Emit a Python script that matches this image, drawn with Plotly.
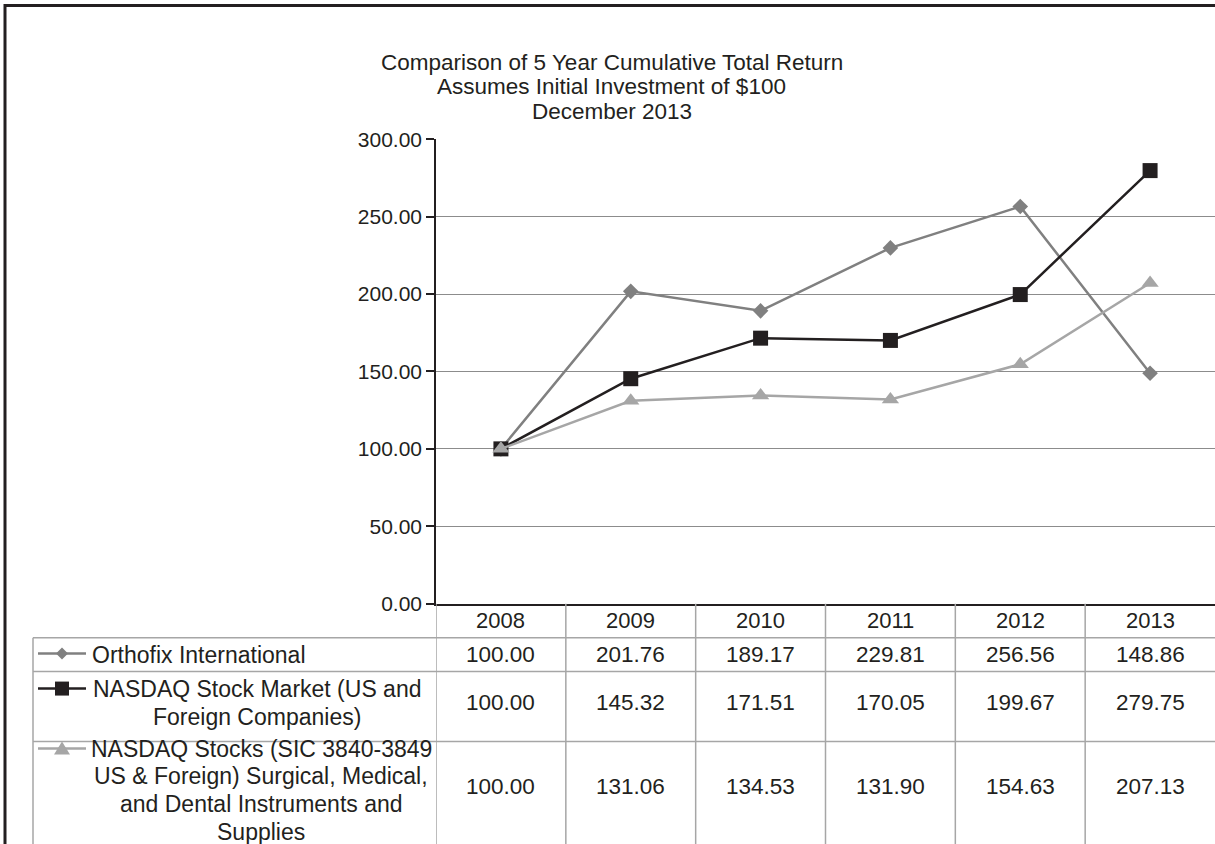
import plotly.graph_objects as go

# ---- data ----
years = ["2008", "2009", "2010", "2011", "2012", "2013"]
series_names = [
    "Orthofix International",
    "NASDAQ Stock Market (US and<br>Foreign Companies)",
    "NASDAQ Stocks (SIC 3840-3849<br>US & Foreign) Surgical, Medical,<br>and Dental Instruments and<br>Supplies",
]
orthofix = [100.00, 201.76, 189.17, 229.81, 256.56, 148.86]
nasdaq_market = [100.00, 145.32, 171.51, 170.05, 199.67, 279.75]
nasdaq_sic = [100.00, 131.06, 134.53, 131.90, 154.63, 207.13]
title_lines = [
    "Comparison of 5 Year Cumulative Total Return",
    "Assumes Initial Investment of $100",
    "December 2013",
]
y_ticks = [0, 50, 100, 150, 200, 250, 300]

# ---- styles ----
W, H = 1215, 844
FONT = "Liberation Sans, Arial, sans-serif"
TXT = "#231f20"
colors = ["#808080", "#231f20", "#a6a6a6"]
symbols = ["diamond", "square", "triangle-up"]
msizes = [12, 15, 15]
TABLE_LINE = "#a6a6a6"

# the page is photographed with a small vertical offset/scale; map target pixels
Y_OFF, Y_SPAN = 11.6, 822.0


def px(p):
    return p / W


def py(p):
    return 1 - (p - Y_OFF) / Y_SPAN


plot_left, plot_right, plot_top, plot_bottom = 436, 1215, 139, 604
all_series = [orthofix, nasdaq_market, nasdaq_sic]
xs = list(range(len(years)))

fig = go.Figure()
for vals, name, c, s, ms in zip(all_series, series_names, colors, symbols, msizes):
    fig.add_trace(go.Scatter(
        x=xs, y=vals, mode="lines+markers", name=name,
        line=dict(color=c, width=2.5),
        marker=dict(symbol=s, size=ms, color=c, line=dict(width=0)),
        cliponaxis=False, showlegend=False,
    ))

shapes = []
# outer border
shapes.append(dict(type="rect", xref="paper", yref="paper",
                   x0=px(5), x1=px(1240), y0=py(5), y1=py(880),
                   line=dict(color=TXT, width=3)))
# table horizontal lines
for yy in [638, 672, 742]:
    shapes.append(dict(type="line", xref="paper", yref="paper",
                       x0=px(33), x1=px(1216), y0=py(yy), y1=py(yy),
                       line=dict(color=TABLE_LINE, width=1.5)))
# table left border
shapes.append(dict(type="line", xref="paper", yref="paper",
                   x0=px(33), x1=px(33), y0=py(638), y1=py(870),
                   line=dict(color=TABLE_LINE, width=1.5)))
# column separators (through the x scale)
for i in range(len(years)):
    shapes.append(dict(type="line", xref="x", yref="paper",
                       x0=i - 0.5, x1=i - 0.5, y0=py(plot_bottom), y1=py(870),
                       line=dict(color=TABLE_LINE, width=1.5)))

# legend keys inside the data table
key_rows_y = [654, 689, 749]
marker_paths = [
    "M0,-6 L6,0 L0,6 L-6,0 Z",     # diamond
    "M-7,-7 L7,-7 L7,7 L-7,7 Z",   # square
    "M0,7 L8,-6 L-8,-6 Z",         # triangle (pixel y points up)
]
for ky, c, path in zip(key_rows_y, colors, marker_paths):
    shapes.append(dict(type="line", xref="paper", yref="paper",
                       x0=px(38), x1=px(86), y0=py(ky), y1=py(ky),
                       line=dict(color=c, width=2.5)))
    shapes.append(dict(type="path", xref="paper", yref="paper",
                       xsizemode="pixel", ysizemode="pixel",
                       xanchor=px(62), yanchor=py(ky),
                       path=path, fillcolor=c, line=dict(width=0)))

annotations = []


def txt(text, x, y, size, xref="paper", xanchor="center"):
    annotations.append(dict(text=text, xref=xref, yref="paper", x=x, y=y,
                            showarrow=False, xanchor=xanchor, yanchor="middle",
                            font=dict(size=size, color=TXT, family=FONT)))


# title lines
for i, t in enumerate(title_lines):
    txt(t, px(612), py(62 + 24.5 * i), 22.5)
# year header
for i, yr in enumerate(years):
    txt(yr, i, py(621), 22, xref="x")
# values
row_val_y = [655, 703, 787]
for vals, vy in zip(all_series, row_val_y):
    for i, v in enumerate(vals):
        txt(f"{v:.2f}", i, py(vy), 22.5, xref="x")
# row labels
txt(series_names[0], px(90), py(655), 23, xanchor="left")
for j, line in enumerate(series_names[1].split("<br>")):
    txt(line, px(257), py(689 + 28.5 * j), 23)
for j, line in enumerate(series_names[2].split("<br>")):
    txt(line, px(261), py(749 + 28 * j), 23)

fig.update_layout(
    width=W, height=H,
    margin=dict(l=0, r=0, t=0, b=0),
    paper_bgcolor="white", plot_bgcolor="white",
    font=dict(family=FONT, color=TXT, size=21),
    xaxis=dict(domain=[px(plot_left), px(plot_right)], range=[-0.5, len(years) - 0.5],
               showgrid=False, zeroline=False, showticklabels=False, ticks="",
               showline=True, linecolor=TXT, linewidth=1.5, fixedrange=True),
    yaxis=dict(domain=[py(plot_bottom), py(plot_top)], range=[0, 300],
               tickvals=y_ticks, tickformat=".2f", ticks="outside", ticklen=8,
               tickcolor=TXT, tickwidth=1.5, showline=True, linecolor=TXT,
               linewidth=1.5, showgrid=True, gridcolor="#8c8c8c", gridwidth=1.2,
               zeroline=False, ticklabelstandoff=0,
               tickfont=dict(size=21, color=TXT, family=FONT), fixedrange=True),
    shapes=shapes, annotations=annotations,
)

fig.write_html(
    "out.html",
    config={"displayModeBar": False},
    post_script="document.body.style.margin='0';document.body.style.overflow='hidden';",
)
